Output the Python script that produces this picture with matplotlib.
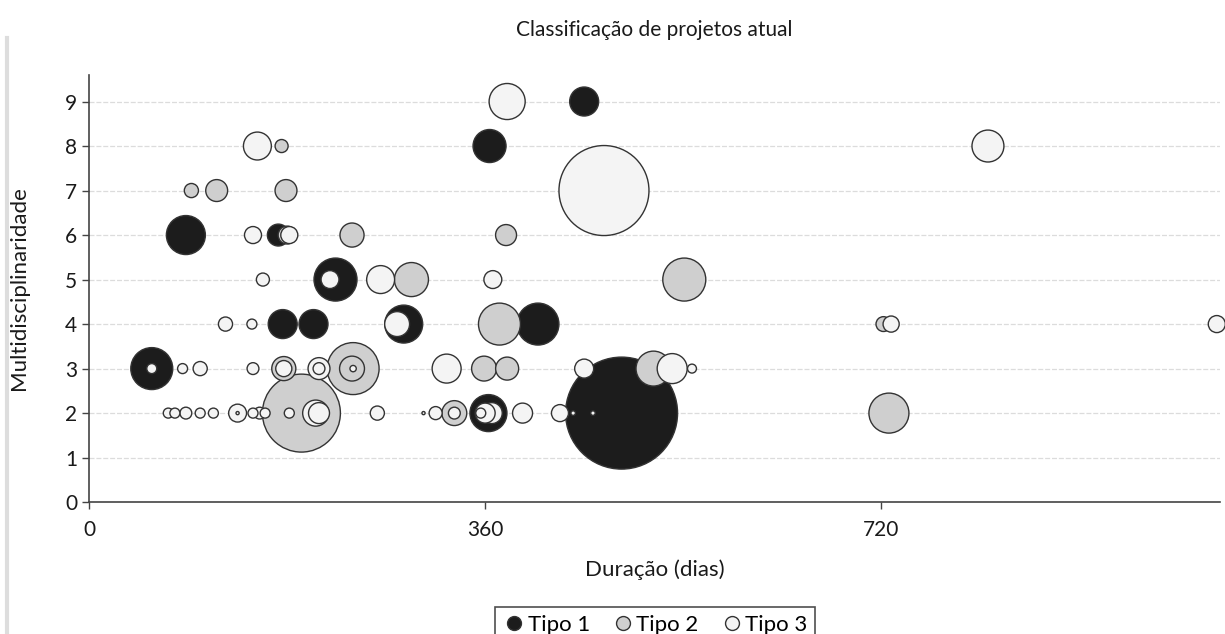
import matplotlib
matplotlib.use("Agg")
import matplotlib.pyplot as plt
from matplotlib.lines import Line2D
import numpy as np

plt.rcParams["font.family"] = ["Lato", "DejaVu Sans"]

# Tipo 1: duração (dias), multidisciplinaridade, porte (área relativa)
t1_dias = [450, 364, 88, 172, 224, 176, 204, 286, 408, 57, 363, 484]
t1_multi = [9, 8, 6, 6, 5, 4, 4, 4, 4, 3, 2, 2]
t1_porte = [84, 109, 152, 48, 185, 84, 84, 144, 176, 176, 137, 1254]

# Tipo 2
t2_dias = [175, 93, 116, 179, 180, 239, 379, 293, 541, 373, 722, 177, 240, 239,
           359, 380, 513, 193, 332, 727]
t2_multi = [8, 7, 7, 7, 6, 6, 6, 5, 5, 4, 4, 3, 3, 3, 3, 3, 3, 2, 2, 2]
t2_porte = [17, 20, 48, 48, 32, 58, 44, 116, 185, 176, 22, 58, 270, 62,
            62, 53, 122, 608, 62, 160]

# Tipo 3
t3_dias = [380, 153, 817, 468, 149, 182, 158, 219, 265, 367, 124, 148, 280, 729,
           1025, 57, 85, 101, 149, 177, 209, 209, 240, 325, 450, 530, 548,
           72, 78, 88, 101, 113, 135, 135, 149, 155, 160, 182, 206, 209, 262,
           304, 315, 332, 360, 366, 356, 394, 428, 440, 458]
t3_multi = [9, 8, 8, 7, 6, 6, 5, 5, 5, 5, 4, 4, 4, 4,
            4, 3, 3, 3, 3, 3, 3, 3, 3, 3, 3, 3, 3,
            2, 2, 2, 2, 2, 2, 2, 2, 2, 2, 2, 2, 2, 2,
            2, 2, 2, 2, 2, 2, 2, 2, 2, 2]
t3_porte = [130, 78, 102, 810, 29, 29, 17, 32, 78, 32, 20, 10, 62, 26,
            29, 10, 10, 20, 14, 26, 48, 14, 4, 84, 36, 90, 8,
            10, 10, 14, 10, 10, 32, 1, 10, 14, 10, 10, 68, 44, 20,
            1, 17, 14, 40, 44, 10, 40, 29, 2, 2]

series = [
    ("Tipo 1", t1_dias, t1_multi, t1_porte, "#1c1c1c"),
    ("Tipo 2", t2_dias, t2_multi, t2_porte, "#cfcfcf"),
    ("Tipo 3", t3_dias, t3_multi, t3_porte, "#f4f4f4"),
]

SCALE = 5.184  # porte -> pontos^2

fig = plt.figure(figsize=(12.25, 6.34), dpi=100)
ax = fig.add_axes([0.0727, 0.208, 0.9233, 0.674])

for name, xs, ys, ss, color in series:
    xs, ys, ss = np.array(xs), np.array(ys), np.array(ss, dtype=float)
    order = np.argsort(-ss)  # maiores primeiro
    ax.scatter(xs[order], ys[order], s=ss[order] * SCALE, c=color,
               edgecolors="#333333", linewidths=1.0, zorder=3, clip_on=False)

ax.set_xlim(0, 1028)
ax.set_ylim(0, 9.6)
ax.set_xticks([0, 360, 720])
ax.set_yticks(range(0, 10))
ax.tick_params(axis="both", labelsize=15, length=5, width=1, color="#444444",
               labelcolor="#1a1a1a")
ax.tick_params(axis="x", pad=8)
ax.yaxis.grid(True, color="#dcdcdc", linestyle=(0, (4, 1.5)), linewidth=0.9)
ax.set_axisbelow(True)
for side in ("top", "right"):
    ax.spines[side].set_visible(False)
for side in ("left", "bottom"):
    ax.spines[side].set_color("#444444")
    ax.spines[side].set_linewidth(1.2)

ax.set_title("Classificação de projetos atual", fontsize=15, color="#1a1a1a",
             pad=28)
ax.set_xlabel("Duração (dias)", fontsize=16, color="#1a1a1a", labelpad=14)
ax.set_ylabel("Multidisciplinaridade", fontsize=16, color="#1a1a1a", labelpad=26)

handles = [Line2D([], [], marker="o", linestyle="", markersize=10,
                  markerfacecolor=c, markeredgecolor="#333333",
                  markeredgewidth=1.0, label=n)
           for n, _, _, _, c in series]
leg = fig.legend(handles=handles, loc="upper center", ncol=3,
                 bbox_to_anchor=(0.535, 0.06), fontsize=16, frameon=True,
                 fancybox=False, edgecolor="#222222", handletextpad=0.1,
                 columnspacing=1.0, borderpad=0.35, handlelength=1.0)
leg.get_frame().set_linewidth(1.2)

# faixa cinza à esquerda (borda da página)
fig.add_artist(Line2D([0.006, 0.006], [0, 0.94], color="#dddddd", linewidth=3))

fig.savefig("out.png", dpi=100)
